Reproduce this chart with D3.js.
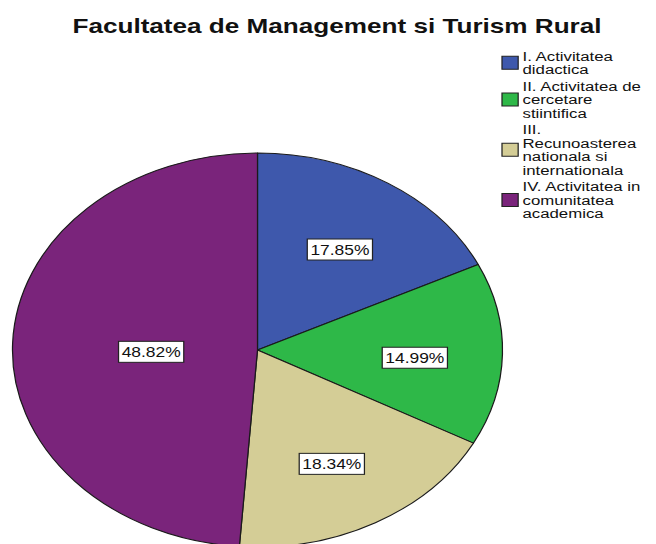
<!DOCTYPE html>
<html>
<head>
<meta charset="utf-8">
<script src="https://cdn.jsdelivr.net/npm/d3@7"></script>
<style>
  html, body { margin: 0; padding: 0; background: #fff; }
  svg { display: block; font-family: "Liberation Sans", Arial, sans-serif; }
</style>
</head>
<body>
<svg id="chart" width="656" height="544"></svg>
<script>
const title = "Facultatea de Management si Turism Rural";
const categories = [
  "I. Activitatea didactica",
  "II. Activitatea de cercetare stiintifica",
  "III. Recunoasterea nationala si internationala",
  "IV. Activitatea in comunitatea academica"
];
const legendLines = [
  ["I. Activitatea", "didactica"],
  ["II. Activitatea de", "cercetare", "stiintifica"],
  ["III.", "Recunoasterea", "nationala si", "internationala"],
  ["IV. Activitatea in", "comunitatea", "academica"]
];
const values = [17.85, 14.99, 18.34, 48.82];
const palette = ["#3E58AC", "#2EB848", "#D4CD96", "#7A247B"];

const W = 656, H = 544;
const stretch = 1.2437;          // the original picture is stretched horizontally
const svg = d3.select("#chart");
svg.append("rect").attr("width", W).attr("height", H).attr("fill", "#fff");
const root = svg.append("g").attr("transform", `scale(${stretch},1)`);

const color = d3.scaleOrdinal().domain(categories).range(palette);

// Title
root.append("text")
  .attr("x", 337 / stretch).attr("y", 33)
  .attr("text-anchor", "middle")
  .attr("font-size", 21).attr("font-weight", "bold").attr("fill", "#111")
  .text(title);

// Pie
const cx = 257.5 / stretch, cy = 350, R = 197;
const pie = d3.pie().sort(null).value(d => d.v);
const data = pie(categories.map((c, i) => ({ c, v: values[i] })));
const arc = d3.arc().innerRadius(0).outerRadius(R);
const pg = root.append("g").attr("transform", `translate(${cx},${cy})`);
pg.selectAll("path").data(data).join("path")
  .attr("d", arc)
  .attr("fill", d => color(d.data.c))
  .attr("stroke", "#1a1a1a").attr("stroke-width", 1)
  .attr("stroke-linejoin", "round");

// Labels near the area centroid of each sector
const lab = pg.selectAll("g.lab").data(data).join("g").attr("class", "lab")
  .attr("transform", d => {
    const th = d.endAngle - d.startAngle;
    const mid = (d.startAngle + d.endAngle) / 2;
    const dist = 4 * R * Math.sin(th / 2) / (3 * th);
    return `translate(${dist * Math.sin(mid)},${-dist * Math.cos(mid) + 5})`;
  });
lab.append("rect");
lab.append("text")
  .attr("text-anchor", "middle").attr("dy", "0.36em")
  .attr("font-size", 14).attr("fill", "#111")
  .text(d => d.data.v.toFixed(2) + "%");
lab.each(function() {
  const g = d3.select(this);
  const bb = g.select("text").node().getBBox();
  g.select("rect")
    .attr("x", bb.x - 2.5).attr("y", -10.5)
    .attr("width", bb.width + 5).attr("height", 21)
    .attr("fill", "#fff").attr("stroke", "#222").attr("stroke-width", 1);
});

// Legend
const lx = 502 / stretch, tx = 522.5 / stretch;
const lineH = 13.5, groupGap = 3, firstCenter = 56, fs = 13.5;
let yc = firstCenter;
const lg = root.append("g");
legendLines.forEach((lines, i) => {
  const centers = lines.map((_, k) => yc + k * lineH);
  const g = lg.append("g");
  lines.forEach((t, k) => {
    g.append("text").attr("x", tx).attr("y", centers[k]).attr("dy", "0.36em")
      .attr("font-size", fs).attr("fill", "#111").text(t);
  });
  const mid = (centers[0] + centers[centers.length - 1]) / 2;
  g.append("rect").attr("x", lx).attr("y", mid - 6.5)
    .attr("width", 13).attr("height", 13)
    .attr("fill", color(categories[i])).attr("stroke", "#222").attr("stroke-width", 1);
  yc = centers[centers.length - 1] + lineH + groupGap;
});
</script>
</body>
</html>
